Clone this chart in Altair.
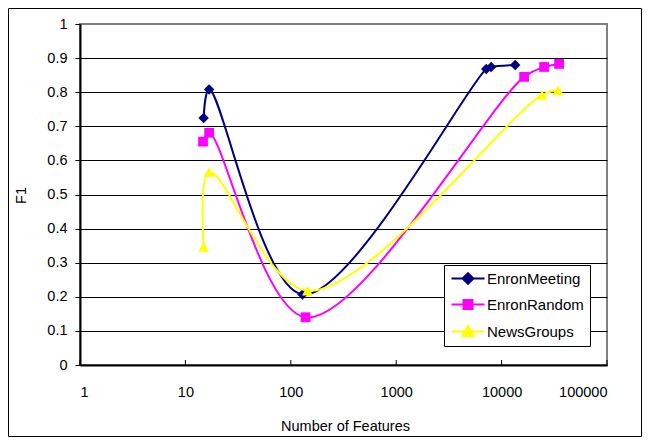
import altair as alt
import pandas as pd

series_names = ["EnronMeeting", "EnronRandom", "NewsGroups"]
series_colors = ["#000080", "#FF00FF", "#FFFF00"]
series_shapes = ["diamond", "square", "triangle-up"]

meeting_x = [14.9, 16.8, 129, 7150, 7960, 13450]
meeting_y = [0.724, 0.808, 0.207, 0.868, 0.874, 0.880]
random_x = [14.7, 16.8, 138, 16360, 25300, 35100]
random_y = [0.655, 0.681, 0.140, 0.845, 0.874, 0.883]
news_x = [14.9, 16.8, 144, 24200, 34400]
news_y = [0.346, 0.566, 0.218, 0.792, 0.806]

x_ticks = [1, 10, 100, 1000, 10000, 100000]
y_ticks = [0, 0.1, 0.2, 0.3, 0.4, 0.5, 0.6, 0.7, 0.8, 0.9, 1]

rows = []
for name, xs, ys in [("EnronMeeting", meeting_x, meeting_y),
                     ("EnronRandom", random_x, random_y),
                     ("NewsGroups", news_x, news_y)]:
    for a, b in zip(xs, ys):
        rows.append({"series": name, "x": a, "y": b})
df = pd.DataFrame(rows)

FONT = "Liberation Sans"

X = alt.X("x:Q",
          scale=alt.Scale(type="log", domain=[1, 100000]),
          axis=alt.Axis(values=x_ticks, format="d", title="Number of Features",
                        ticks=False, tickSize=0, labelPadding=20, grid=False,
                        titleX=265, titleY=61, titleBaseline="middle", titleAlign="center"))
Y = alt.Y("y:Q",
          scale=alt.Scale(domain=[0, 1]),
          axis=alt.Axis(values=y_ticks, format="~g", title="F1",
                        tickSize=5, labelPadding=8, grid=True,
                        gridColor=alt.condition("datum.value >= 1", alt.value("#808080"), alt.value("black")),
                        titleX=-59, titleY=171, titleAngle=270,
                        titleBaseline="middle", titleAlign="center"))

layers = []
for name, col, shp, sz in zip(series_names, series_colors, series_shapes, [110, 95, 120]):
    sub = alt.Chart(df).transform_filter(alt.datum.series == name)
    layers.append(sub.mark_line(interpolate="catmull-rom", color=col, strokeWidth=2).encode(x=X, y=Y))
    layers.append(sub.mark_point(filled=True, shape=shp, size=sz, color=col, opacity=1).encode(x=X, y=Y))

# inward ticks on x axis
tick_df = pd.DataFrame({"x": x_ticks})
ticks = alt.Chart(tick_df).mark_rule(color="black", strokeWidth=1).encode(
    x=X, y=alt.value(341), y2=alt.value(336))

# legend symbols: a line segment with the marker, in units of 6px (sqrt(144)/2)
legend_paths = [
    "M-1,0H4.5M1.75,-0.9L2.65,0L1.75,0.9L0.85,0Z",
    "M-1,0H4.5M1.0,-0.75H2.5V0.75H1.0Z",
    "M-1,0H4.5M1.75,-0.95L2.7,0.75H0.8Z",
]
leg = alt.Legend(orient="none", legendX=364, legendY=241, title=None,
                 strokeColor="black", fillColor="white", padding=6,
                 labelFont=FONT, labelFontSize=15, labelColor="black",
                 symbolSize=144, symbolStrokeWidth=2,
                 rowPadding=8, labelOffset=22, cornerRadius=0)
legend_layer = alt.Chart(df).transform_filter("false").mark_point(
    filled=True, opacity=1, size=144, strokeWidth=2).encode(
    color=alt.Color("series:N", scale=alt.Scale(domain=series_names, range=series_colors), legend=leg),
    shape=alt.Shape("series:N", scale=alt.Scale(domain=series_names, range=legend_paths), legend=leg),
    stroke=alt.Stroke("series:N", scale=alt.Scale(domain=series_names, range=series_colors), legend=leg),
)

frame = alt.Chart(pd.DataFrame({"f": [0]})).mark_rect(fillOpacity=0, stroke="black", strokeWidth=1).encode(
    x=alt.value(-71.5), x2=alt.value(561.5), y=alt.value(-15.5), y2=alt.value(412.5))

chart = alt.layer(ticks, *layers, legend_layer, frame).properties(
    width=527, height=341,
    autosize=alt.AutoSizeParams(type="none"),
    padding={"left": 72, "top": 16, "right": 35, "bottom": 72},
    background="white",
).configure_view(
    fill="#C0C0C0", stroke="#808080", strokeWidth=2
).configure_axis(
    labelFont=FONT, labelFontSize=14.5, labelColor="black",
    titleFont=FONT, titleFontSize=14.5, titleFontWeight="normal", titleColor="black",
    domainColor="black", domainWidth=2, tickColor="black", gridWidth=1,
)

chart.save("out.html", embed_options={"renderer": "svg", "actions": False})
